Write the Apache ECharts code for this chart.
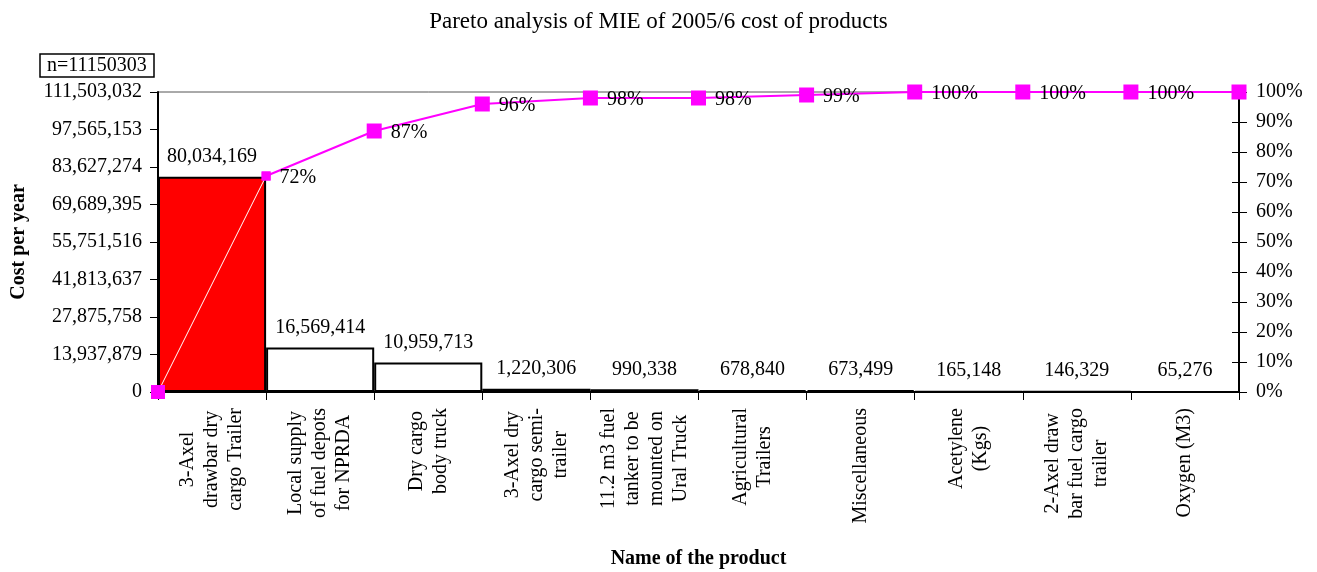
<!DOCTYPE html>
<html>
<head>
<meta charset="utf-8">
<title>Pareto analysis of MIE of 2005/6 cost of products</title>
<script src="https://cdn.jsdelivr.net/npm/echarts@6/dist/echarts.min.js"></script>
<style>
  html, body { margin: 0; padding: 0; background: #fff; }
  #chart { width: 1317px; height: 572px; }
</style>
</head>
<body>
<div id="chart"></div>
<script>
// Product names (line breaks as wrapped under the axis)
const categories = [
  '3-Axel\ndrawbar dry\ncargo Trailer',
  'Local supply\nof fuel depots\nfor NPRDA',
  'Dry cargo\nbody truck',
  '3-Axel dry\ncargo semi-\ntrailer',
  '11.2 m3 fuel\ntanker to be\nmounted on\nUral Truck',
  'Agricultural\nTrailers',
  'Miscellaneous',
  'Acetylene\n(Kgs)',
  '2-Axel draw\nbar fuel cargo\ntrailer',
  'Oxygen (M3)'
];

// Cost per year of each product
const costs = [80034169, 16569414, 10959713, 1220306, 990338, 678840, 673499, 165148, 146329, 65276];

// Cumulative share (%) at each category boundary, starting from zero
const cumulativePct = [0, 72, 87, 96, 98, 98, 99, 100, 100, 100, 100];

// Left axis scale
const costMax = 111503032;
const costStep = 13937879;

const sampleNote = 'n=11150303';

const FONT = '"Liberation Serif", "Times New Roman", serif';
const fmt = v => Number(v).toLocaleString('en-US');

const chart = echarts.init(document.getElementById('chart'), null, { renderer: 'canvas' });

const boundaryPoints = cumulativePct.map((p, i) => [i, p]);
const lastIndex = boundaryPoints.length - 1;

const option = {
  backgroundColor: '#ffffff',
  animation: false,
  textStyle: { fontFamily: FONT, color: '#000' },
  title: [
    {
      text: 'Pareto analysis of MIE of 2005/6 cost of products',
      left: 'center',
      top: 5,
      textStyle: { fontFamily: FONT, fontSize: 23, fontWeight: 'normal', color: '#000' }
    },
    {
      text: sampleNote,
      left: 40,
      top: 54,
      padding: [1, 7, 0, 7],
      borderColor: '#000',
      borderWidth: 1.5,
      textStyle: { fontFamily: FONT, fontSize: 20, fontWeight: 'normal', color: '#000', lineHeight: 22 }
    }
  ],
  grid: {
    left: 158, right: 78, top: 92, bottom: 180,
    outerBoundsMode: 'none',
    containLabel: false,
    show: true, borderColor: '#555', borderWidth: 1, backgroundColor: 'transparent'
  },
  xAxis: [
    {
      type: 'category',
      data: categories,
      boundaryGap: true,
      name: 'Name of the product',
      nameLocation: 'middle',
      nameGap: 157,
      nameTextStyle: { fontFamily: FONT, fontSize: 20, fontWeight: 'bold', color: '#000' },
      axisLine: { lineStyle: { color: '#000', width: 2 } },
      axisTick: { show: true, interval: 0, length: 8, lineStyle: { color: '#000', width: 1 } },
      axisLabel: {
        interval: 0,
        rotate: 90,
        margin: 16,
        color: '#000',
        formatter: v => v.split('\n').map(s => '{c|' + s + '}').join('\n'),
        rich: {
          c: { fontFamily: FONT, fontSize: 20, lineHeight: 24, align: 'center', color: '#000' }
        }
      }
    },
    {
      type: 'value',
      min: 0,
      max: categories.length,
      show: false
    }
  ],
  yAxis: [
    {
      type: 'value',
      min: 0,
      max: costMax,
      interval: costStep,
      name: 'Cost per year',
      nameLocation: 'middle',
      nameGap: 129,
      nameTextStyle: { fontFamily: FONT, fontSize: 20, fontWeight: 'bold', color: '#000' },
      axisLine: { show: true, lineStyle: { color: '#000', width: 2 } },
      axisTick: { show: true, length: 8, lineStyle: { color: '#000', width: 1 } },
      axisLabel: { fontFamily: FONT, fontSize: 20, color: '#000', margin: 16, formatter: fmt },
      splitLine: { show: false }
    },
    {
      type: 'value',
      position: 'right',
      min: 0,
      max: 100,
      interval: 10,
      axisLine: { show: true, lineStyle: { color: '#000', width: 2 } },
      axisTick: { show: true, length: 8, lineStyle: { color: '#000', width: 1 } },
      axisLabel: { fontFamily: FONT, fontSize: 20, color: '#000', margin: 17, formatter: '{value}%' },
      splitLine: { show: false }
    },
    {
      // inner half of the crossing ticks on the percentage axis
      type: 'value',
      position: 'right',
      min: 0,
      max: 100,
      interval: 10,
      axisLine: { show: false },
      axisTick: { show: true, inside: true, length: 7, lineStyle: { color: '#000', width: 1 } },
      axisLabel: { show: false },
      splitLine: { show: false }
    }
  ],
  series: [
    {
      name: 'Cost per year',
      type: 'bar',
      xAxisIndex: 0,
      yAxisIndex: 0,
      barWidth: '100%',
      barCategoryGap: 0,
      data: costs.map((v, i) => ({
        value: v,
        itemStyle: { color: i === 0 ? '#ff0000' : '#ffffff' }
      })),
      itemStyle: { borderColor: '#000', borderWidth: 2 },
      label: {
        show: true,
        position: 'top',
        distance: 10,
        fontFamily: FONT,
        fontSize: 20,
        color: '#000',
        formatter: p => fmt(p.value)
      },
      z: 2
    },
    {
      // first rise of the cumulative curve, drawn across the red bar
      name: 'Cumulative start',
      type: 'line',
      xAxisIndex: 1,
      yAxisIndex: 1,
      data: [
        { value: boundaryPoints[0], symbolSize: 14 },
        { value: boundaryPoints[1], symbolSize: 9 }
      ],
      symbol: 'rect',
      lineStyle: { color: '#ffffff', width: 1 },
      itemStyle: { color: '#ff00ff' },
      label: { show: false },
      z: 5
    },
    {
      name: 'Cumulative %',
      type: 'line',
      xAxisIndex: 1,
      yAxisIndex: 1,
      data: boundaryPoints.slice(1).map((pt, i) => ({
        value: pt,
        symbolSize: i === 0 ? 9 : 15,
        // the end point's value already reads on the right axis
        label: { show: i + 1 !== lastIndex }
      })),
      symbol: 'rect',
      lineStyle: { color: '#ff00ff', width: 2 },
      itemStyle: { color: '#ff00ff' },
      label: {
        show: true,
        position: 'right',
        distance: 9,
        offset: [0, 2],
        fontFamily: FONT,
        fontSize: 20,
        color: '#000',
        formatter: p => p.value[1] + '%'
      },
      z: 6
    }
  ]
};

chart.setOption(option);
</script>
</body>
</html>
